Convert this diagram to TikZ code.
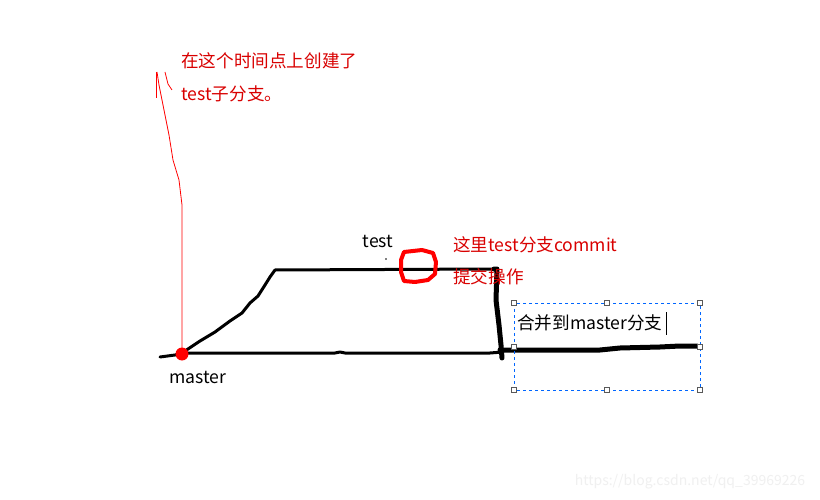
\documentclass[tikz,border=0pt]{standalone}
\usepackage{fontspec}
\setmainfont{Noto Sans CJK SC}
\begin{document}
\begin{tikzpicture}[x=1pt,y=-1pt,
  redtxt/.style={text=red!85!black, font=\fontsize{17.6}{20}\selectfont, anchor=west, inner sep=0pt},
  blktxt/.style={text=black, font=\fontsize{17.6}{20}\selectfont, inner sep=0pt},
  pen/.style={line width=3pt, line cap=round, line join=round},
  thickpen/.style={line width=5pt, line cap=round, line join=round},
  redpen/.style={red, line width=0.8pt, line join=round},
  handle/.style={draw=gray!70!black, fill=white, minimum size=5pt, inner sep=0pt, line width=0.6pt}]
\useasboundingbox (0,0) rectangle (820,500);
\fill[white] (0,0) rectangle (820,500);

% red annotation text
\node[redtxt] (ann1) at (181,61) {在这个时间点上创建了};
\node[redtxt] (ann2) at (181,94) {test子分支。};

% red annotation line
\coordinate (dot) at (182,354);
\draw[redpen] (dot) -- (182,205) -- (179,180) -- (173,160) -- (169,135) -- (164,110) -- (159,85) -- (157,72);
\draw[redpen] (156,72) -- (156,98);
\draw[redpen] (165,72) -- (168,84) -- (172,90);

% master line
\coordinate (m0) at (160,357);
\coordinate (mend) at (503,352);
\draw[pen] (m0) -- (175,355) -- (182,353) -- (335,353) -- (340,352) -- (345,353) -- (490,353) -- (mend);

% test branch
\coordinate (t0) at (182,353);
\coordinate (tcorner) at (275,270);
\coordinate (tend) at (494,269);
\draw[pen] (t0) -- (200,341) -- (215,332) -- (230,321) -- (242,313) -- (250,303) -- (258,296) -- (265,285) -- (270,277) -- (tcorner) -- (tend);

% merge down
\draw[thickpen] (tend) -- (497,269) -- (496,300) -- (499,325) -- (501,345) -- (502,358);

% merged master line
\coordinate (mm0) at (500,350);
\coordinate (mm1) at (697,346);
\draw[thickpen] (mm0) -- (600,350) -- (620,348) -- (660,347) -- (680,346) -- (mm1);

% red dot
\fill[red] (dot) circle (6.5);

% commit circle
\draw[red, line width=4pt, line join=round] (404,252) -- (422,250) -- (433,253) -- (436,262) -- (435,274) -- (428,280) -- (415,282) -- (404,281) -- (401,272) -- (401,260) -- cycle;

% labels
\node[blktxt] (test) at (378,241) {test};
\fill (386,259) circle (0.8);
\node[blktxt] (master) at (198,377) {master};

\node[redtxt] (c1) at (453,245) {这里test分支commit};
\node[redtxt] (c2) at (453,277) {提交操作};

% selection box
\draw[blue!60!cyan, dashed, line width=0.6pt] (514,303) rectangle (700,390);
\foreach \p in {(514,303),(607,303),(700,303),(514,347),(700,347),(514,390),(607,390),(700,390)}
  \node[handle] at \p {};
\node[blktxt, anchor=west] (merge) at (517,323) {合并到master分支};
\draw[black, line width=0.8pt] (666,312) -- (666,335);

% watermark
\node[text=gray!12, font=\fontsize{14}{16}\selectfont, inner sep=0pt] (wm) at (690,482) {https://blog.csdn.net/qq\_39969226};
\end{tikzpicture}
\end{document}
